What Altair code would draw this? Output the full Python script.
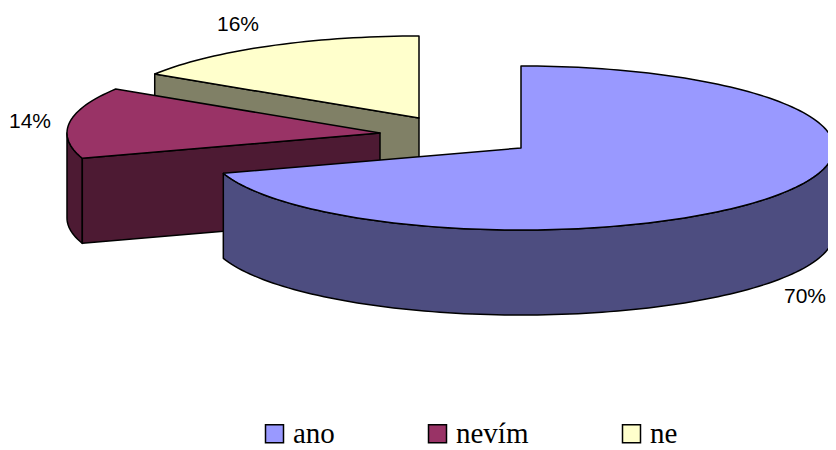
import math
import altair as alt

# Data
categories = ["ano", "nevím", "ne"]
shares = [70, 14, 16]
top_colors = ["#9999FF", "#993366", "#FFFFCC"]
side_colors = ["#4D4D80", "#4D1A33", "#808066"]

# Layout of the exploded 3-D pie (screen pixels)
apexes = {"ano": (521, 148), "nevím": (380, 133), "ne": (419, 118)}
label_anchors = {"ano": (805, 297), "nevím": (30, 122), "ne": (238, 25)}
RX, RY, DEPTH = 313, 82, 85
OX, OY = 8, 8


def rim(apex, angle, drop=0):
    a = math.radians(angle)
    return [apex[0] + RX * math.sin(a), apex[1] - RY * math.cos(a) + drop]


def arc(apex, a0, a1, drop=0):
    n = max(4, int(abs(a1 - a0) / 1.5))
    return [rim(apex, a0 + (a1 - a0) * i / n, drop) for i in range(n + 1)]


def feature(part, ring):
    ring = ring + [ring[0]]
    return {"type": "Feature", "properties": {"part": part},
            "geometry": {"type": "Polygon", "coordinates": [ring]}}


# Angular extent of each slice, clockwise from twelve o'clock
spans = {}
start = 0.0
for c, s in zip(categories, shares):
    spans[c] = (start, start + s * 3.6)
    start += s * 3.6

features = []
for c in ["ne", "nevím", "ano"]:
    apex = apexes[c]
    a0, a1 = spans[c]
    side = c + " (side)"
    top_apex = [apex[0], apex[1]]
    bottom_apex = [apex[0], apex[1] + DEPTH]
    # outer wall: only the stretch that faces the viewer (3 to 9 o'clock)
    w0, w1 = max(a0, 90), min(a1, 270)
    if w1 > w0:
        features.append(feature(side, arc(apex, w0, w1) + arc(apex, w1, w0, DEPTH)))
    # cut face turned toward the viewer
    if c != "ano":
        features.append(feature(side, [top_apex, rim(apex, a0), rim(apex, a0, DEPTH), bottom_apex]))
    features.append(feature(c, [top_apex] + arc(apex, a0, a1)))

domain = categories + [c + " (side)" for c in categories]
colors = top_colors + side_colors

pie = alt.Chart(
    alt.InlineData(values={"type": "FeatureCollection", "features": features},
                   format=alt.DataFormat(type="json", property="features"))
).mark_geoshape(stroke="black", strokeWidth=1.5, strokeJoin="round").encode(
    color=alt.Color(
        "properties.part:N",
        scale=alt.Scale(domain=domain, range=colors),
        legend=alt.Legend(
            values=categories, title=None, orient="none", direction="horizontal",
            legendX=252, legendY=411, columns=3, columnPadding=88, padding=0,
            symbolType="square", symbolSize=324, symbolStrokeColor="black",
            symbolStrokeWidth=1.5, symbolOpacity=1, labelOpacity=1,
            labelFont="Liberation Serif", labelFontSize=29, labelColor="black",
            labelOffset=4, labelLimit=200,
        ),
    )
).project(type="identity", scale=1, translate=[-OX, -OY])

label_rows = [
    {"lon": label_anchors[c][0], "lat": label_anchors[c][1], "text": f"{s}%"}
    for c, s in zip(categories, shares)
]
labels = alt.Chart(alt.Data(values=label_rows)).mark_text(
    font="Liberation Sans", fontSize=21, color="black", align="center", baseline="middle"
).encode(longitude="lon:Q", latitude="lat:Q", text="text:N").project(
    type="identity", scale=1, translate=[-OX, -OY]
)

chart = alt.layer(pie, labels).properties(
    width=820, height=442, padding=0,
    autosize=alt.AutoSizeParams(type="none"),
    background="white",
).configure_view(stroke=None)

chart.save("out.html", embed_options={"renderer": "svg", "actions": False})
